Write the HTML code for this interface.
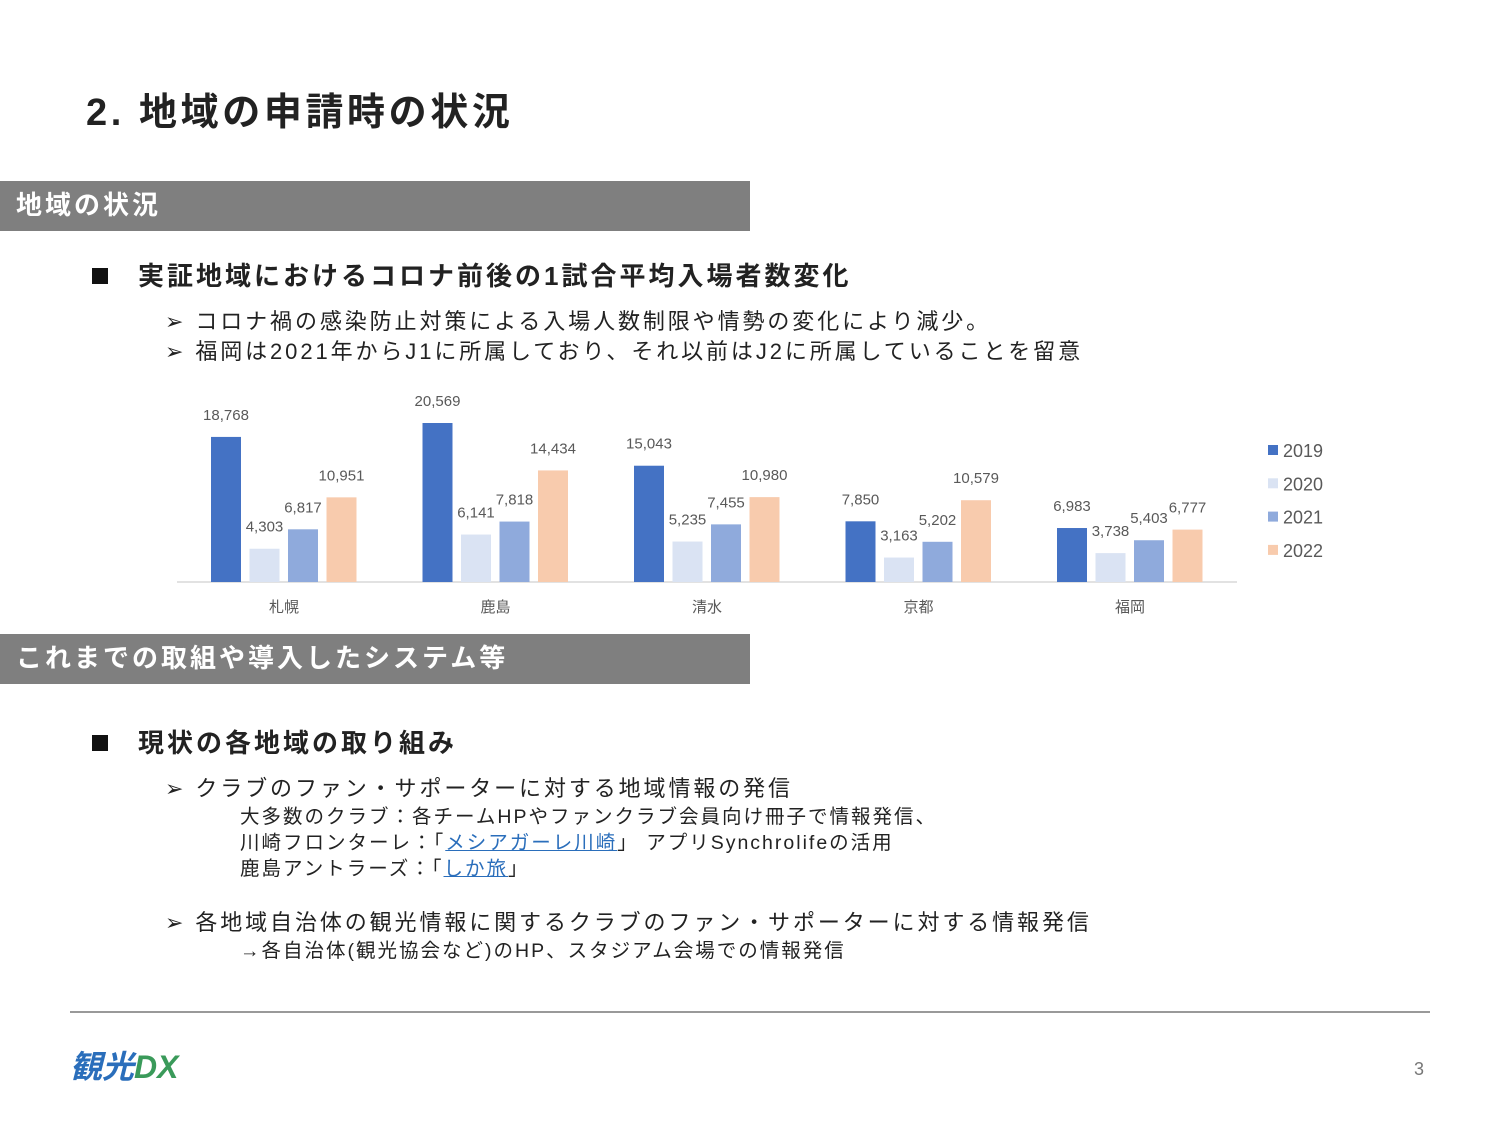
<!DOCTYPE html>
<html><head><meta charset="utf-8"><style>
body{margin:0;width:1500px;height:1125px;background:#fff;position:relative;overflow:hidden;font-family:"Liberation Sans","Noto Sans CJK JP",sans-serif;color:#222}
.a{position:absolute;white-space:nowrap}
.band{position:absolute;left:0;width:750px;height:50px;background:#7f7f7f;color:#fff;font-weight:bold;font-size:26px;line-height:48px;padding-left:16px;box-sizing:border-box;letter-spacing:3px}
.h{font-size:26px;font-weight:bold;letter-spacing:3px}
.sq{position:absolute;width:16px;height:16px;background:#111}
.t{font-size:22px;letter-spacing:2.9px}
.s{font-size:19.5px;letter-spacing:2px}
a{color:#2a6ebb}
</style></head><body>
<div class="a" style="left:86px;top:81px;font-size:38px;font-weight:bold;letter-spacing:3.6px">2. 地域の申請時の状況</div>
<div class="band" style="top:181px">地域の状況</div>
<div class="sq" style="left:92px;top:268px"></div>
<div class="a h" style="left:138px;top:256px">実証地域におけるコロナ前後の1試合平均入場者数変化</div>
<div class="a t" style="left:165px;top:304px">➢ コロナ禍の感染防止対策による入場人数制限や情勢の変化により減少。</div>
<div class="a t" style="left:165px;top:334px">➢ 福岡は2021年からJ1に所属しており、それ以前はJ2に所属していることを留意</div>
<svg id="chart" class="a" style="left:0;top:380px" width="1500" height="250"></svg>
<div class="band" style="top:634px">これまでの取組や導入したシステム等</div>
<div class="sq" style="left:92px;top:735px"></div>
<div class="a h" style="left:138px;top:723px">現状の各地域の取り組み</div>
<div class="a t" style="left:165px;top:771px">➢ クラブのファン・サポーターに対する地域情報の発信</div>
<div class="a s" style="left:240px;top:800px">大多数のクラブ：各チームHPやファンクラブ会員向け冊子で情報発信、</div>
<div class="a s" style="left:240px;top:826px">川崎フロンターレ：「<a href="#">メシアガーレ川崎</a>」 アプリSynchrolifeの活用</div>
<div class="a s" style="left:240px;top:852px">鹿島アントラーズ：「<a href="#">しか旅</a>」</div>
<div class="a t" style="left:165px;top:905px">➢ 各地域自治体の観光情報に関するクラブのファン・サポーターに対する情報発信</div>
<div class="a s" style="left:240px;top:934px">→各自治体(観光協会など)のHP、スタジアム会場での情報発信</div>
<div class="a" style="left:70px;top:1011px;width:1360px;height:2px;background:#999"></div>
<div class="a" style="left:70px;top:1042px;font-size:32px;font-style:italic;color:#2a6ebb;font-weight:bold">観光<span style="color:#3a9a5a">DX</span></div>
<div class="a" style="left:1414px;top:1059px;font-size:18px;color:#777">3</div>
<script>
const categories=["札幌","鹿島","清水","京都","福岡"];
const years=["2019","2020","2021","2022"];
const v2019=[18768,20569,15043,7850,6983];
const v2020=[4303,6141,5235,3163,3738];
const v2021=[6817,7818,7455,5202,5403];
const v2022=[10951,14434,10980,10579,6777];
const series=[v2019,v2020,v2021,v2022];
const colors=["#4472C4","#DAE3F3","#8FAADC","#F8CBAD"];
const svg=document.getElementById('chart');
const NS="http://www.w3.org/2000/svg";
const base=202, k=159/20569;
const y=v=>base-v*k;
const x=(ci,si)=>284+ci*211.5-73+si*38.5;
function mk(t,at){const e=document.createElementNS(NS,t);for(const a in at)e.setAttribute(a,at[a]);svg.appendChild(e);return e;}
const ax=mk('line',{x1:177,x2:1237,y1:base,y2:base,stroke:'#d9d9d9','stroke-width':1.5});


categories.forEach((c,ci)=>{
 series.forEach((s,si)=>{
  const r=mk('rect',{x:x(ci,si),y:y(s[ci]),width:30,height:s[ci]*k,fill:colors[si]});
  
  
  const t=mk('text',{x:x(ci,si)+15,y:y(s[ci])-17,'text-anchor':'middle','font-size':15,fill:'#595959'});
  t.textContent=s[ci].toLocaleString('en-US');
  
  
 });
 const l=mk('text',{x:284+ci*211.5,y:232,'text-anchor':'middle','font-size':15,fill:'#595959'});
 l.textContent=c;
 
 
});
years.forEach((yr,i)=>{
 const r=mk('rect',{x:1268,y:65+i*33.3,width:10,height:10,fill:colors[i]});
 
 
 const t=mk('text',{x:1283,y:77+i*33.3,'font-size':18,fill:'#595959'});
 t.textContent=yr;
 
 
});
</script>
</body></html>
